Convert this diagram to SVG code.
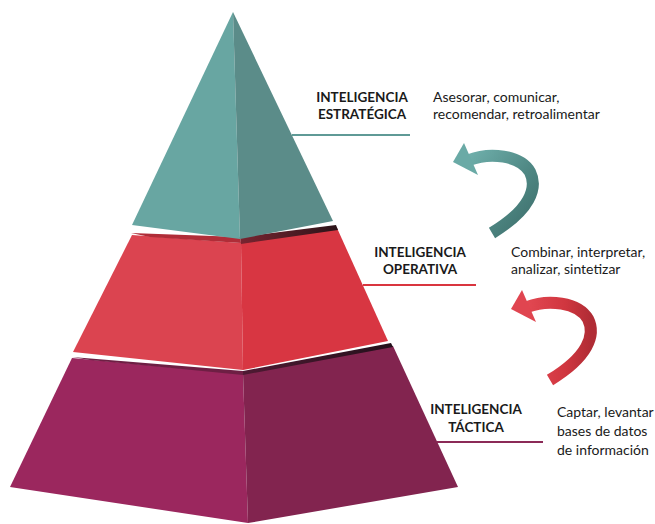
<svg xmlns="http://www.w3.org/2000/svg" width="655" height="524" viewBox="0 0 655 524">
<defs>
<style>
.h{font-family:Lato,"Open Sans","Liberation Sans",sans-serif;font-weight:bold;font-size:13.5px;fill:#1a1a1a;text-anchor:middle}
.t{font-family:Lato,"Open Sans","Liberation Sans",sans-serif;font-size:14px;fill:#1a1a1a}
.ln{stroke-width:2;fill:none}
</style>
<linearGradient id="gTeal" x1="0" y1="0" x2="1" y2="1">
<stop offset="0" stop-color="#6eaeaa"/>
<stop offset="0.55" stop-color="#4f8884"/>
<stop offset="1" stop-color="#3d6e6b"/>
</linearGradient>
<linearGradient id="gRed" x1="0" y1="0" x2="1" y2="0">
<stop offset="0" stop-color="#e24852"/>
<stop offset="0.6" stop-color="#d0363f"/>
<stop offset="1" stop-color="#b02c35"/>
</linearGradient>
<linearGradient id="gShR" x1="0" y1="0" x2="1" y2="0">
<stop offset="0" stop-color="#7a2430"/>
<stop offset="1" stop-color="#2a1419"/>
</linearGradient>
<linearGradient id="gShM" x1="0" y1="0" x2="1" y2="0">
<stop offset="0" stop-color="#4f1a33"/>
<stop offset="1" stop-color="#24101b"/>
</linearGradient>
</defs>
<rect width="655" height="524" fill="#ffffff"/>

<g id="tier-tactica">
<polygon points="72,358 243,374 248,523 10,487" fill="#9b275e"/>
<polygon points="243,374 393,346 458,487 248,523" fill="#82244f"/>
<polygon points="72,357 243,371 243,375 90,360" fill="#6e1f44"/>
<polygon points="243,371 391,343 393,347 243,375" fill="url(#gShM)"/>
</g>

<g id="tier-operativa">
<polygon points="132,235 241,243 243,370 73,352" fill="#db4450"/>
<polygon points="241,243 337,228 388,341 243,370" fill="#d83642"/>
<polygon points="131,233 240,237 241,243 150,237" fill="#b02d38"/>
<polygon points="240,237 336,225 338,230 241,244" fill="url(#gShR)"/>
</g>

<g id="tier-estrategica">
<polygon points="233,12 240,239 132,225" fill="#68a6a2"/>
<polygon points="233,12 333,221 240,239" fill="#5b8c89"/>
</g>

<g id="connectors">
<line class="ln" x1="292" y1="135" x2="410" y2="135" stroke="#5f9a96"/>
<line class="ln" x1="363" y1="285" x2="476" y2="285" stroke="#d9353f"/>
<line class="ln" x1="437" y1="442" x2="543" y2="442" stroke="#8b2a57"/>
<g id="arrow-teal">
<path d="M469,160 C490,152 520,155 530,172 C538,188 530,210 492,233" fill="none" stroke="url(#gTeal)" stroke-width="12"/>
<polygon points="453,162 464,143 478,175" fill="#6aaaa6"/>
</g>
<g id="arrow-red" transform="translate(58,147)">
<path d="M469,160 C490,152 520,155 530,172 C538,188 530,210 492,233" fill="none" stroke="url(#gRed)" stroke-width="12"/>
<polygon points="453,162 464,143 478,175" fill="#e04550"/>
</g>
</g>

<g id="label-estrategica">
<text class="h" x="362" y="102">INTELIGENCIA</text>
<text class="h" x="362" y="119">ESTRATÉGICA</text>
<text class="t" x="433" y="102">Asesorar, comunicar,</text>
<text class="t" x="433" y="119">recomendar, retroalimentar</text>
</g>
<g id="label-operativa">
<text class="h" x="420" y="257">INTELIGENCIA</text>
<text class="h" x="420" y="274">OPERATIVA</text>
<text class="t" x="511" y="257">Combinar, interpretar,</text>
<text class="t" x="511" y="274">analizar, sintetizar</text>
</g>
<g id="label-tactica">
<text class="h" x="476" y="414">INTELIGENCIA</text>
<text class="h" x="476" y="432">TÁCTICA</text>
<text class="t" x="557" y="417">Captar, levantar</text>
<text class="t" x="557" y="436">bases de datos</text>
<text class="t" x="557" y="455">de información</text>
</g>
</svg>
